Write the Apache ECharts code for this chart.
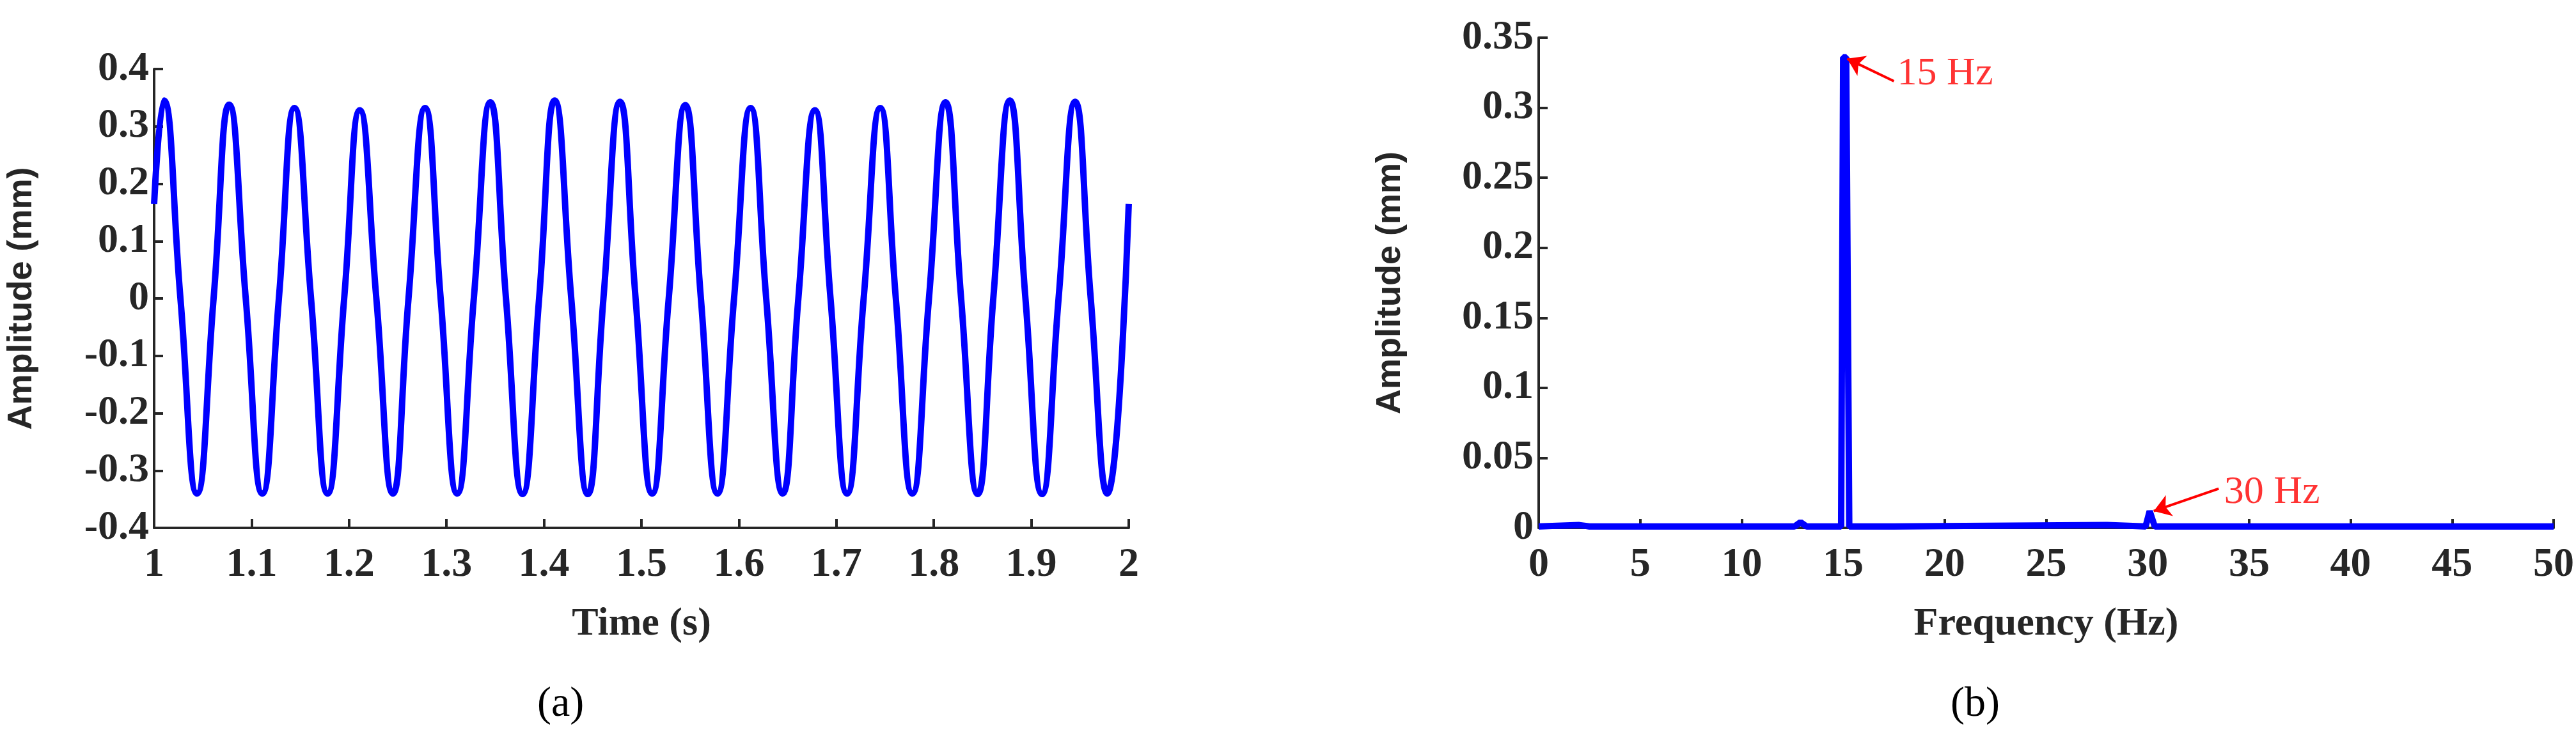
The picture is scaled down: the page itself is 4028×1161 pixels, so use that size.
<!DOCTYPE html>
<html lang="en">
<head>
<meta charset="UTF-8">
<title>Amplitude</title>
<script src="https://cdn.jsdelivr.net/npm/echarts@6/dist/echarts.min.js"></script>
<style>html,body{margin:0;background:#fff}#main{width:4028px;height:1161px}</style>
</head>
<body>
<div id="main"></div>
<script>
// time signal: peak / trough times and values
var startPoint = [1.0, 0.165];
var endPoint = [2.0, 0.165];
var peakTimes = [1.010, 1.077, 1.144, 1.211, 1.278, 1.345, 1.411, 1.478, 1.545, 1.612, 1.678, 1.745, 1.812, 1.878, 1.945];
var peakVals = [0.345, 0.338, 0.332, 0.328, 0.332, 0.342, 0.345, 0.343, 0.337, 0.332, 0.328, 0.332, 0.342, 0.345, 0.343];
var troughTimes = [1.044, 1.111, 1.178, 1.245, 1.311, 1.378, 1.445, 1.511, 1.578, 1.645, 1.711, 1.778, 1.845, 1.911, 1.978];
var troughVals = [-0.340, -0.340, -0.340, -0.340, -0.340, -0.341, -0.341, -0.340, -0.340, -0.340, -0.340, -0.340, -0.341, -0.341, -0.340];
var zeroTimes = [1.027, 1.094, 1.161, 1.228, 1.294, 1.361, 1.428, 1.494, 1.561, 1.628, 1.694, 1.761, 1.828, 1.894, 1.961];
var upZeroTimes = [1.061, 1.128, 1.195, 1.261, 1.328, 1.395, 1.461, 1.528, 1.595, 1.661, 1.728, 1.795, 1.861, 1.928];

// spectrum
var specData = [[0, 0.001], [2, 0.002], [2.5, 0.001], [12.6, 0.001], [12.9, 0.004], [13.2, 0.001], [14.9, 0.001],
  [15.0, 0.336], [15.15, 0.336], [15.3, 0.001], [17.5, 0.001], [28, 0.002], [29.9, 0.001], [30.1, 0.012], [30.35, 0.001], [50, 0.001]];

var timeData = [startPoint];
for (var i = 0; i < peakTimes.length; i++) {
  timeData.push([peakTimes[i], peakVals[i]]);
  timeData.push([zeroTimes[i], 0]);
  timeData.push([troughTimes[i], troughVals[i]]);
  if (i < upZeroTimes.length) timeData.push([upZeroTimes[i], 0]);
}
timeData.push(endPoint);

var font = 'Liberation Serif';
var axisCol = '#262626';
function axisCommon() {
  return {
    axisLine: {onZero: false, lineStyle: {color: axisCol, width: 4}},
    axisTick: {inside: true, length: 14, lineStyle: {color: axisCol, width: 4}},
    axisLabel: {color: axisCol, fontFamily: font, fontWeight: 'bold', fontSize: 64},
    splitLine: {show: false},
    nameTextStyle: {color: axisCol, fontFamily: font, fontWeight: 'bold', fontSize: 62}
  };
}
var yName = {color: axisCol, fontFamily: 'Liberation Sans', fontWeight: 'bold', fontSize: 54};
var xa = Object.assign(axisCommon(), {gridIndex: 0, type: 'value', min: 1, max: 2, interval: 0.1,
  name: 'Time (s)', nameLocation: 'middle', nameGap: 120});
xa.axisLabel.margin = 26;
xa.axisLabel.formatter = function (v) { return +v.toFixed(1); };
var ya = Object.assign(axisCommon(), {gridIndex: 0, type: 'value', min: -0.4, max: 0.4, interval: 0.1,
  name: 'Amplitude (mm)', nameLocation: 'middle', nameGap: 180, nameTextStyle: yName});
ya.axisLabel.formatter = function (v) { return +v.toFixed(1); };
var xb = Object.assign(axisCommon(), {gridIndex: 1, type: 'value', min: 0, max: 50, interval: 5,
  name: 'Frequency (Hz)', nameLocation: 'middle', nameGap: 120});
xb.axisLabel.margin = 26;
var yb = Object.assign(axisCommon(), {gridIndex: 1, type: 'value', min: 0, max: 0.35, interval: 0.05,
  name: 'Amplitude (mm)', nameLocation: 'middle', nameGap: 205, nameTextStyle: yName});
yb.axisLabel.formatter = function (v) { return +v.toFixed(2); };

var chart = echarts.init(document.getElementById('main'));
chart.setOption({
  backgroundColor: '#fff',
  animation: false,
  grid: [
    {left: 241, right: 2263, top: 108, bottom: 335},
    {left: 2406, right: 34, top: 59, bottom: 335}
  ],
  xAxis: [xa, xb],
  yAxis: [ya, yb],
  graphic: [
    {type: 'text', left: 840, top: 1070, style: {text: '(a)', font: '66px "Liberation Serif"', fill: '#000'}},
    {type: 'text', left: 3050, top: 1070, style: {text: '(b)', font: '66px "Liberation Serif"', fill: '#000'}}
  ],
  series: [
    {type: 'line', xAxisIndex: 0, yAxisIndex: 0, data: timeData, smooth: 0.5, showSymbol: false,
      lineStyle: {color: '#0000ff', width: 10}},
    {type: 'line', xAxisIndex: 1, yAxisIndex: 1, data: specData, showSymbol: false,
      lineStyle: {color: '#0000ff', width: 10},
      markLine: {silent: true, symbol: ['none', 'arrow'], symbolSize: 26, label: {show: false},
        lineStyle: {color: '#ff0000', width: 4, type: 'solid'},
        data: [
          [{coord: [17.5, 0.319]}, {coord: [15.2, 0.335]}],
          [{coord: [33.5, 0.028]}, {coord: [30.3, 0.012]}]
        ]}},
    {type: 'scatter', xAxisIndex: 1, yAxisIndex: 1, symbolSize: 0,
      data: [{value: [17.6, 0.324], name: '15 Hz'}, {value: [33.7, 0.025], name: '30 Hz'}],
      label: {show: true, position: 'right', distance: 2, formatter: '{b}', color: '#ff0000',
        fontFamily: font, fontSize: 62}}
  ]
});
</script>
</body>
</html>
